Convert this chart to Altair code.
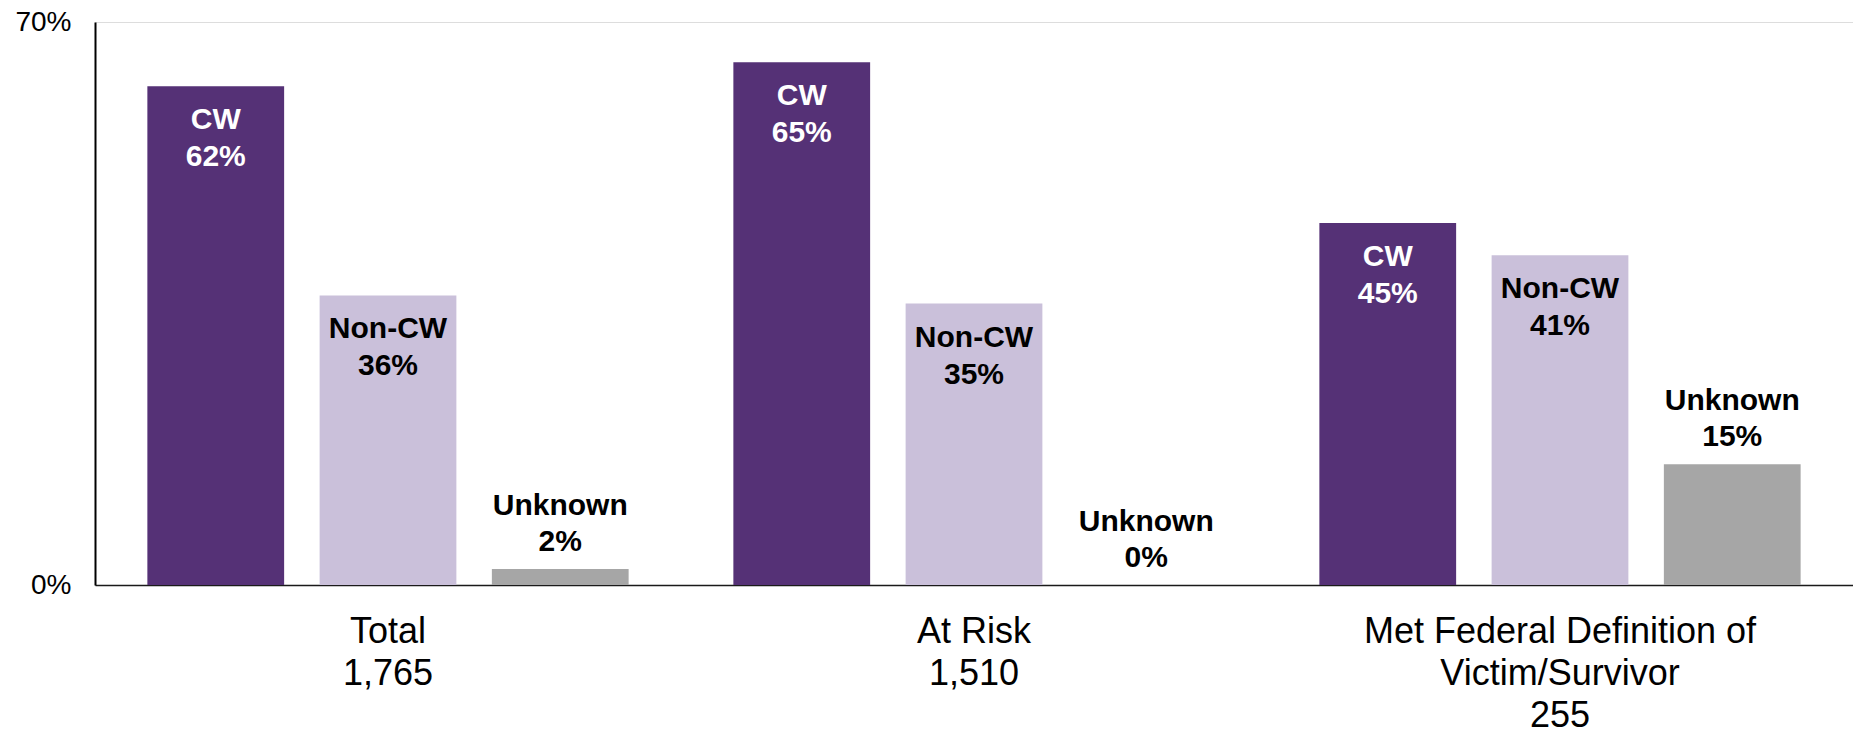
import altair as alt
import pandas as pd

groups = ["Total\n1,765", "At Risk\n1,510", "Met Federal Definition of\nVictim/Survivor\n255"]
series = ["CW", "Non-CW", "Unknown"]
cw_values = [62, 65, 45]
noncw_values = [36, 35, 41]
unknown_values = [2, 0, 15]
bar_colors = ["#553176", "#CAC0DA", "#A6A6A6"]
text_colors = ["#FFFFFF", "#000000", "#000000"]

rows = []
for gi, g in enumerate(groups):
    for si, (s, vals) in enumerate(zip(series, [cw_values, noncw_values, unknown_values])):
        v = vals[gi]
        rows.append({
            "group": g,
            "series": s,
            "value": v,
            "label": f"{s}\n{v}%",
            "tcolor": text_colors[si],
        })
df = pd.DataFrame(rows)

FONT = "Liberation Sans"

x_enc = alt.X(
    "group:N",
    sort=groups,
    scale=alt.Scale(paddingInner=0, paddingOuter=0),
    axis=alt.Axis(
        title=None,
        labelAngle=0,
        labelExpr="split(datum.value, '\\n')",
        labelFont=FONT,
        labelFontSize=36,
        labelColor="#000000",
        labelLineHeight=42,
        labelPadding=29,
        labelLimit=0,
        ticks=False,
        tickSize=0,
        domainColor="#1a1a1a",
        domainWidth=1.5,
    ),
)
xoff = alt.XOffset(
    "series:N",
    sort=series,
    scale=alt.Scale(paddingInner=0.206, paddingOuter=0.304),
)
y_enc = alt.Y(
    "value:Q",
    scale=alt.Scale(domain=[0, 70], nice=False),
    axis=alt.Axis(
        title=None,
        values=[0, 70],
        labelExpr="datum.value + '%'",
        labelFont=FONT,
        labelFontSize=28,
        labelColor="#000000",
        labelPadding=24,
        labelFlush=False,
        ticks=False,
        tickSize=0,
        grid=False,
        domainColor="#000000",
        domainWidth=2,
    ),
)

base = alt.Chart(df)

bars = base.mark_bar().encode(
    x=x_enc,
    xOffset=xoff,
    y=y_enc,
    color=alt.Color("series:N", scale=alt.Scale(domain=series, range=bar_colors), legend=None),
)

inside = base.transform_filter("datum.series != 'Unknown'").mark_text(
    baseline="top", align="center", dy=19, lineBreak="\n",
    font=FONT, fontSize=30, fontWeight="bold", lineHeight=37,
).encode(
    x=alt.X("group:N", sort=groups),
    xOffset=alt.XOffset("series:N", sort=series),
    y=alt.Y("value:Q"),
    text="label:N",
    color=alt.Color("tcolor:N", scale=None),
)

above = base.transform_filter("datum.series == 'Unknown'").mark_text(
    baseline="bottom", align="center", dy=-48, lineBreak="\n",
    font=FONT, fontSize=30, fontWeight="bold", lineHeight=36, color="#000000",
).encode(
    x=alt.X("group:N", sort=groups),
    xOffset=alt.XOffset("series:N", sort=series),
    y=alt.Y("value:Q"),
    text="label:N",
)

chart = alt.layer(bars, inside, above).properties(
    width=1758,
    height=563,
    autosize=alt.AutoSizeParams(type="none"),
    padding={"left": 87, "top": 14, "right": 0, "bottom": 143},
).configure_view(stroke=None).configure(background="#FFFFFF")

chart.save("out.html", embed_options={"renderer": "svg", "actions": False})
